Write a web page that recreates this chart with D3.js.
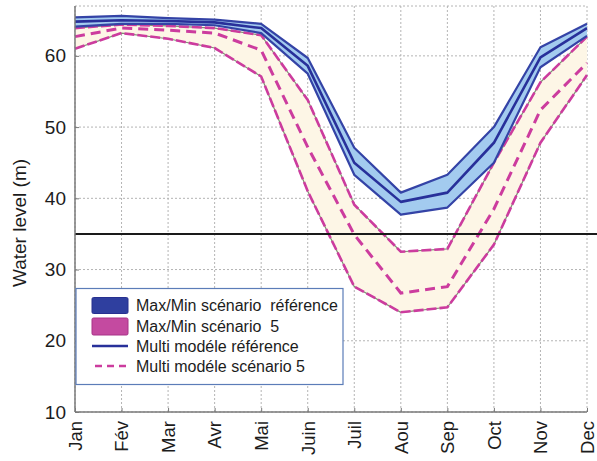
<!DOCTYPE html>
<html>
<head>
<meta charset="utf-8">
<script src="https://cdn.jsdelivr.net/npm/d3@7"></script>
<style>
  body { margin: 0; background: #fff; }
  text { font-family: "Liberation Sans", Arial, Helvetica, sans-serif; fill: #1c1c1c; }
</style>
</head>
<body>
<svg id="chart" width="597" height="461"></svg>
<script>
// Monthly water levels (m)
const months = ["Jan", "Fév", "Mar", "Avr", "Mai", "Juin", "Juil", "Aou", "Sep", "Oct", "Nov", "Dec"];

// Reference scenario: envelope and multi-model mean
const refMax  = [65.4, 65.6, 65.3, 65.1, 64.5, 59.7, 47.1, 40.8, 43.3, 50.0, 61.2, 64.5];
const refMean = [64.8, 65.0, 64.9, 64.7, 63.9, 58.6, 45.0, 39.5, 40.8, 47.8, 59.8, 63.9];
const refMin  = [64.1, 64.5, 64.5, 64.3, 63.2, 57.5, 43.3, 37.7, 38.7, 45.0, 58.4, 62.8];

// Scenario 5: envelope and multi-model mean
const s5Max  = [63.9, 64.4, 64.2, 63.9, 62.9, 53.8, 39.1, 32.5, 32.9, 45.0, 56.3, 62.7];
const s5Mean = [62.7, 63.9, 63.6, 63.2, 60.8, 47.2, 34.9, 26.7, 27.6, 38.5, 52.4, 59.0];
const s5Min  = [61.0, 63.2, 62.4, 61.1, 57.1, 41.0, 27.6, 24.0, 24.7, 33.5, 47.8, 57.3];

const yTicks = [10, 20, 30, 40, 50, 60];
const threshold = 35;
const legendLabels = [
  "Max/Min scénario  référence",
  "Max/Min scénario  5",
  "Multi modéle référence",
  "Multi modéle scénario 5"
];

const svg = d3.select("#chart");
const plotL = 75, plotR = 587, plotT = 6, plotB = 412;

const x = d3.scalePoint().domain(months).range([plotL, plotR]);
const y = d3.scaleLinear().domain([10, 67]).range([plotB, plotT]);

const C = {
  refFill: "#a3cbef", refEdge: "#3443a6", refMean: "#28309a",
  s5Fill: "#fdf6e6", s5Line: "#cc3c9e", s5Core: "#7f8f72",
  grid: "#b4b4b4", axis: "#7a7a7a"
};

// grid
const grid = svg.append("g");
grid.selectAll("line.v").data(months).join("line")
  .attr("x1", d => x(d)).attr("x2", d => x(d))
  .attr("y1", plotT).attr("y2", plotB)
  .attr("stroke", C.grid).attr("stroke-width", 1).attr("stroke-dasharray", "2,2");
grid.selectAll("line.h").data(yTicks.concat([67])).join("line")
  .attr("x1", plotL).attr("x2", plotR)
  .attr("y1", d => y(d)).attr("y2", d => y(d))
  .attr("stroke", C.grid).attr("stroke-width", 1).attr("stroke-dasharray", "2,2");

const idx = d3.range(months.length);
const area = (hi, lo) => d3.area()
  .x(i => x(months[i])).y0(i => y(lo[i])).y1(i => y(hi[i]))(idx);
const line = arr => d3.line().x(i => x(months[i])).y(i => y(arr[i]))(idx);

// scenario 5 envelope
svg.append("path").attr("d", area(s5Max, s5Min)).attr("fill", C.s5Fill);
[s5Max, s5Min].forEach(arr => {
  svg.append("path").attr("d", line(arr)).attr("fill", "none")
    .attr("stroke", C.s5Core).attr("stroke-width", 1.2);
  svg.append("path").attr("d", line(arr)).attr("fill", "none")
    .attr("stroke", C.s5Line).attr("stroke-width", 2.6)
    .attr("stroke-dasharray", "10,3");
});
svg.append("path").attr("d", line(s5Mean)).attr("fill", "none")
  .attr("stroke", C.s5Line).attr("stroke-width", 3)
  .attr("stroke-dasharray", "10,6");

// reference envelope
svg.append("path").attr("d", area(refMax, refMin)).attr("fill", C.refFill);
[refMax, refMin].forEach(arr => {
  svg.append("path").attr("d", line(arr)).attr("fill", "none")
    .attr("stroke", C.refEdge).attr("stroke-width", 2.2).attr("stroke-linejoin", "round");
});
svg.append("path").attr("d", line(refMean)).attr("fill", "none")
  .attr("stroke", C.refMean).attr("stroke-width", 2.6).attr("stroke-linejoin", "round");

// threshold
svg.append("line")
  .attr("x1", plotL).attr("x2", 597)
  .attr("y1", y(threshold)).attr("y2", y(threshold))
  .attr("stroke", "#1a1a1a").attr("stroke-width", 2);

// axes frame
svg.append("line").attr("x1", plotL).attr("x2", plotL).attr("y1", plotT).attr("y2", plotB)
  .attr("stroke", C.axis).attr("stroke-width", 1.5);
svg.append("line").attr("x1", plotL).attr("x2", plotR).attr("y1", plotB).attr("y2", plotB)
  .attr("stroke", C.axis).attr("stroke-width", 1.5);

// x axis
const xAxis = svg.append("g").attr("transform", `translate(0,${plotB})`)
  .call(d3.axisBottom(x).tickSize(-4).tickSizeOuter(0).tickPadding(0));
xAxis.select(".domain").remove();
xAxis.selectAll(".tick line").attr("stroke", C.axis);
xAxis.selectAll(".tick text")
  .attr("transform", "rotate(-90)")
  .attr("x", -9).attr("y", 0).attr("dy", "0.34em")
  .attr("text-anchor", "end")
  .style("font-size", "18.5px");

// y axis
const yAxis = svg.append("g").attr("transform", `translate(${plotL},0)`)
  .call(d3.axisLeft(y).tickValues(yTicks).tickSize(-4).tickSizeOuter(0).tickPadding(9));
yAxis.select(".domain").remove();
yAxis.selectAll(".tick line").attr("stroke", C.axis);
yAxis.selectAll(".tick text").style("font-size", "19px");

svg.append("text")
  .attr("transform", `translate(26,${(plotT + plotB) / 2 + 14}) rotate(-90)`)
  .attr("text-anchor", "middle")
  .style("font-size", "19px")
  .text("Water level (m)");

// legend
const lg = svg.append("g");
lg.append("rect").attr("x", 76).attr("y", 288.5).attr("width", 267).attr("height", 96)
  .attr("fill", "#fff").attr("stroke", "#5b7cb8").attr("stroke-width", 1.2);
const rowY = [305, 326, 346, 366];
lg.append("rect").attr("x", 92).attr("y", rowY[0] - 7.5).attr("width", 36).attr("height", 16)
  .attr("rx", 1.5).attr("fill", "#2f3f9f").attr("stroke", "#27308f");
lg.append("rect").attr("x", 92).attr("y", rowY[1] - 8).attr("width", 36).attr("height", 17)
  .attr("rx", 1.5).attr("fill", "#c44aa0").attr("stroke", "#a83388");
lg.append("line").attr("x1", 92).attr("x2", 128).attr("y1", rowY[2]).attr("y2", rowY[2])
  .attr("stroke", C.refMean).attr("stroke-width", 2.6);
lg.append("line").attr("x1", 95).attr("x2", 128).attr("y1", rowY[3]).attr("y2", rowY[3])
  .attr("stroke", C.s5Line).attr("stroke-width", 2.6).attr("stroke-dasharray", "7,5");
lg.selectAll("text.lab").data(legendLabels).join("text")
  .attr("x", 136).attr("y", (d, i) => rowY[i]).attr("dy", "0.35em")
  .attr("xml:space", "preserve")
  .style("white-space", "pre")
  .style("font-size", "16px")
  .text(d => d);
</script>
</body>
</html>
